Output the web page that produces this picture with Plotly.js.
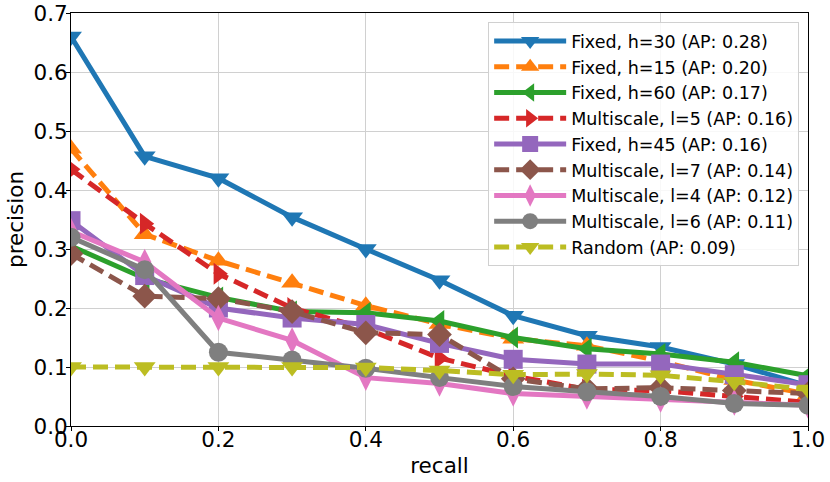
<!DOCTYPE html>
<html>
<head>
<meta charset="utf-8">
<script src="https://cdn.plot.ly/plotly-3.0.1.min.js"></script>
<style>
  html, body { margin: 0; padding: 0; background: #fff; }
  #chart { width: 830px; height: 482px; }
</style>
</head>
<body>
<div id="chart"></div>
<script>
var recall = [0.0, 0.1, 0.2, 0.3, 0.4, 0.5, 0.6, 0.7, 0.8, 0.9, 1.0];

var fixed30 = [0.66, 0.457, 0.42, 0.354, 0.30, 0.247, 0.187, 0.153, 0.134, 0.105, 0.068];
var fixed15 = [0.47, 0.325, 0.28, 0.243, 0.204, 0.173, 0.148, 0.136, 0.11, 0.078, 0.054];
var fixed60 = [0.305, 0.25, 0.218, 0.194, 0.192, 0.178, 0.15, 0.131, 0.122, 0.108, 0.085];
var multi5 = [0.435, 0.343, 0.258, 0.2, 0.165, 0.115, 0.085, 0.062, 0.06, 0.05, 0.04];
var fixed45 = [0.348, 0.255, 0.2, 0.183, 0.172, 0.14, 0.113, 0.105, 0.105, 0.087, 0.07];
var multi7 = [0.292, 0.22, 0.216, 0.194, 0.158, 0.155, 0.08, 0.063, 0.065, 0.06, 0.055];
var multi4 = [0.33, 0.278, 0.183, 0.145, 0.082, 0.072, 0.055, 0.05, 0.045, 0.04, 0.035];
var multi6 = [0.32, 0.265, 0.125, 0.112, 0.098, 0.082, 0.067, 0.058, 0.05, 0.038, 0.035];
var randomP = [0.1, 0.1, 0.1, 0.1, 0.099, 0.094, 0.087, 0.088, 0.086, 0.075, 0.062];

var names = [
    'Fixed, h=30 (AP: 0.28)',
    'Fixed, h=15 (AP: 0.20)',
    'Fixed, h=60 (AP: 0.17)',
    'Multiscale, l=5 (AP: 0.16)',
    'Fixed, h=45 (AP: 0.16)',
    'Multiscale, l=7 (AP: 0.14)',
    'Multiscale, l=4 (AP: 0.12)',
    'Multiscale, l=6 (AP: 0.11)',
    'Random (AP: 0.09)'
];
var series = [fixed30, fixed15, fixed60, multi5, fixed45, multi7, multi4, multi6, randomP];
var colors = ['#1f77b4', '#ff7f0e', '#2ca02c', '#d62728', '#9467bd', '#8c564b', '#e377c2', '#7f7f7f', '#bcbd22'];
var symbols = ['triangle-down', 'triangle-up', 'triangle-left', 'triangle-right', 'square', 'diamond', 'diamond-tall', 'circle', 'triangle-down'];
var dashed = [false, true, false, true, false, true, false, false, true];

var data = series.map(function (ys, i) {
    return {
        x: recall,
        y: ys,
        name: names[i],
        type: 'scatter',
        mode: 'lines+markers',
        line: {color: colors[i], width: 5, dash: dashed[i] ? '15px,7px' : 'solid'},
        marker: {symbol: symbols[i], size: 19, color: colors[i]}
    };
});

var font = 'DejaVu Sans, sans-serif';

var layout = {
    width: 830,
    height: 482,
    margin: {l: 71, r: 22, t: 13, b: 56},
    paper_bgcolor: '#fff',
    plot_bgcolor: '#fff',
    font: {family: font, color: '#000'},
    showlegend: true,
    xaxis: {
        range: [0, 1],
        tickvals: [0, 0.2, 0.4, 0.6, 0.8, 1.0],
        ticktext: ['0.0', '0.2', '0.4', '0.6', '0.8', '1.0'],
        tickfont: {size: 21.5, family: font},
        ticks: 'outside', ticklen: 4, tickcolor: '#000',
        ticklabelstandoff: -10,
        showgrid: true, gridcolor: '#d0d0d0', gridwidth: 1,
        showline: true, linecolor: '#000', linewidth: 1, mirror: true,
        zeroline: false,
        title: {text: 'recall', font: {size: 21.5, family: font}, standoff: 7}
    },
    yaxis: {
        range: [0, 0.7],
        tickvals: [0, 0.1, 0.2, 0.3, 0.4, 0.5, 0.6, 0.7],
        ticktext: ['0.0', '0.1', '0.2', '0.3', '0.4', '0.5', '0.6', '0.7'],
        tickfont: {size: 21.5, family: font},
        ticks: 'outside', ticklen: 4, tickcolor: '#000',
        ticklabelstandoff: -6,
        showgrid: true, gridcolor: '#d0d0d0', gridwidth: 1,
        showline: true, linecolor: '#000', linewidth: 1, mirror: true,
        zeroline: false,
        title: {text: 'precision', font: {size: 21.5, family: font}, standoff: 3}
    },
    legend: {
        x: 0.988, xanchor: 'right',
        y: 0.978, yanchor: 'top',
        bgcolor: 'rgba(255,255,255,0.85)',
        bordercolor: '#d0d0d0', borderwidth: 1,
        font: {size: 17.5, family: font},
        itemwidth: 72,
        tracegroupgap: 0
    }
};

Plotly.newPlot('chart', data, layout, {displayModeBar: false});
</script>
</body>
</html>
